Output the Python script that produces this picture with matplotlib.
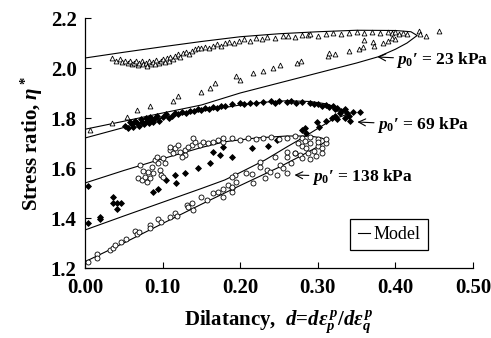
import matplotlib
matplotlib.use('Agg')
import matplotlib.pyplot as plt
import numpy as np

plt.rcParams['font.family'] = ['Liberation Serif', 'DejaVu Serif']
plt.rcParams['font.weight'] = 'bold'
plt.rcParams['axes.labelweight'] = 'bold'
plt.rcParams['mathtext.fontset'] = 'custom'
plt.rcParams['mathtext.rm'] = 'Liberation Serif:bold'
plt.rcParams['mathtext.it'] = 'Liberation Serif:italic:bold'
plt.rcParams['mathtext.bf'] = 'Liberation Serif:bold'

# p0' = 23 kPa test data (open triangles)
tri_d = [0.035, 0.04, 0.045, 0.048, 0.052, 0.055, 0.058, 0.06, 0.063, 0.066, 0.068, 0.07,
         0.073, 0.075, 0.078, 0.08, 0.082, 0.085, 0.087, 0.09, 0.092, 0.095, 0.098, 0.1,
         0.103, 0.106, 0.108, 0.11, 0.113, 0.116, 0.12, 0.123, 0.126, 0.13, 0.134, 0.138,
         0.142, 0.145, 0.15, 0.155, 0.16, 0.165, 0.17, 0.175, 0.18, 0.186, 0.192, 0.198,
         0.205, 0.212, 0.22, 0.228, 0.235, 0.245, 0.255, 0.262, 0.27, 0.28, 0.287, 0.29,
         0.3, 0.31, 0.32, 0.33, 0.34, 0.35, 0.36, 0.37, 0.38, 0.39, 0.395, 0.4, 0.405,
         0.41, 0.415,
         0.006, 0.035, 0.054, 0.067, 0.084, 0.113, 0.12, 0.15, 0.161, 0.167, 0.195, 0.2,
         0.216, 0.23, 0.242, 0.251, 0.273, 0.278, 0.313, 0.315, 0.322, 0.34, 0.353, 0.36,
         0.371, 0.384, 0.358, 0.373, 0.39, 0.395, 0.4, 0.431, 0.44, 0.456, 0.432]
tri_eta = [2.04, 2.03, 2.035, 2.025, 2.03, 2.02, 2.027, 2.015, 2.022, 2.03, 2.012, 2.02,
           2.028, 2.015, 2.022, 2.01, 2.03, 2.018, 2.025, 2.015, 2.032, 2.02, 2.028, 2.035,
           2.025, 2.04, 2.03, 2.045, 2.038, 2.05, 2.055, 2.045, 2.06, 2.065, 2.058, 2.07,
           2.075, 2.08, 2.08, 2.085, 2.08, 2.09, 2.095, 2.09, 2.1, 2.105, 2.1, 2.11,
           2.115, 2.11, 2.12, 2.118, 2.125, 2.12, 2.128, 2.13, 2.125, 2.132, 2.132, 2.135,
           2.13, 2.138, 2.14, 2.135, 2.14, 2.145, 2.14, 2.145, 2.14, 2.145, 2.14, 2.145, 2.138,
           2.142, 2.135,
           1.752, 1.78, 1.804, 1.832, 1.848, 1.868, 1.888, 1.904, 1.92, 1.94, 1.968, 1.952,
           1.98, 1.988, 2.0, 2.012, 2.02, 2.028, 2.048, 2.06, 2.056, 2.068, 2.076, 2.112,
           2.104, 2.1, 2.085, 2.09, 2.11, 2.12, 2.115, 2.148, 2.13, 2.148, 2.135]

# p0' = 69 kPa test data (filled diamonds)
dia_d = [0.052, 0.055, 0.058, 0.06, 0.062, 0.065, 0.067, 0.07, 0.072, 0.074, 0.076, 0.078,
         0.08, 0.082, 0.084, 0.086, 0.088, 0.09, 0.093, 0.096, 0.1, 0.104, 0.108, 0.112,
         0.116, 0.12, 0.125, 0.13, 0.135, 0.14, 0.145, 0.15, 0.155, 0.16, 0.165, 0.17,
         0.175, 0.18, 0.19, 0.2, 0.205, 0.212, 0.22, 0.23, 0.24, 0.245, 0.25, 0.26, 0.265,
         0.272, 0.28, 0.29, 0.295, 0.3, 0.305, 0.31, 0.315, 0.32, 0.322, 0.325, 0.33,
         0.328, 0.335, 0.338, 0.34, 0.335, 0.342, 0.345, 0.354,
         0.004, 0.004, 0.019, 0.019, 0.036, 0.036, 0.041, 0.041, 0.047, 0.088, 0.094,
         0.105, 0.116, 0.117, 0.129, 0.146, 0.161, 0.165, 0.174, 0.19, 0.178, 0.215,
         0.236, 0.248, 0.279, 0.283, 0.285, 0.299, 0.302, 0.31, 0.318, 0.322, 0.325]
dia_eta = [1.77, 1.76, 1.785, 1.775, 1.765, 1.79, 1.78, 1.77, 1.795, 1.785, 1.775, 1.8,
           1.79, 1.78, 1.805, 1.795, 1.785, 1.8, 1.81, 1.79, 1.805, 1.815, 1.8, 1.81,
           1.82, 1.815, 1.825, 1.82, 1.83, 1.828, 1.835, 1.832, 1.84, 1.838, 1.845, 1.842,
           1.85, 1.848, 1.855, 1.86, 1.855, 1.862, 1.86, 1.865, 1.868, 1.862, 1.87, 1.865,
           1.868, 1.862, 1.865, 1.86, 1.855, 1.858, 1.85, 1.852, 1.845, 1.848, 1.835, 1.84,
           1.83, 1.82, 1.835, 1.82, 1.81, 1.8, 1.79, 1.825, 1.824,
           1.528, 1.38, 1.404, 1.396, 1.484, 1.46, 1.46, 1.436, 1.46, 1.504, 1.516,
           1.552, 1.572, 1.54, 1.58, 1.6, 1.62, 1.664, 1.652, 1.644, 1.684, 1.68,
           1.688, 1.712, 1.752, 1.76, 1.74, 1.784, 1.764, 1.79, 1.8, 1.81, 1.795]

# p0' = 138 kPa test data (open circles)
cir_d = [0.004, 0.015, 0.015, 0.032, 0.036, 0.039, 0.047, 0.053, 0.064, 0.067, 0.069,
         0.084, 0.084, 0.094, 0.098, 0.109, 0.116, 0.118, 0.131, 0.133, 0.138, 0.139,
         0.15, 0.157, 0.165, 0.171, 0.178, 0.184, 0.19, 0.193, 0.19, 0.195, 0.208, 0.178,
         0.19, 0.19, 0.215, 0.216, 0.225, 0.225, 0.232, 0.234, 0.238, 0.247, 0.245, 0.251,
         0.255, 0.26, 0.26, 0.266, 0.26, 0.27, 0.277,
         0.071, 0.068, 0.073, 0.077, 0.08, 0.084, 0.086, 0.088, 0.09, 0.093, 0.094, 0.097,
         0.098, 0.1, 0.103, 0.081, 0.075, 0.109, 0.116, 0.113, 0.12, 0.122, 0.129, 0.129,
         0.125, 0.138, 0.142, 0.148, 0.152, 0.158, 0.165, 0.171, 0.178, 0.178, 0.1,
         0.109, 0.133, 0.139,
         0.19, 0.2, 0.21, 0.22, 0.23, 0.24, 0.25, 0.26, 0.27, 0.28, 0.29, 0.3,
         0.275, 0.28, 0.285, 0.29, 0.295, 0.3, 0.305, 0.31, 0.288, 0.298, 0.305, 0.28,
         0.27, 0.29, 0.31, 0.283, 0.3]
cir_eta = [1.224, 1.256, 1.24, 1.272, 1.28, 1.292, 1.304, 1.316, 1.348, 1.336, 1.344,
           1.372, 1.36, 1.396, 1.384, 1.404, 1.42, 1.41, 1.452, 1.444, 1.46, 1.432,
           1.484, 1.472, 1.5, 1.504, 1.484, 1.532, 1.52, 1.572, 1.504, 1.544, 1.58, 1.516,
           1.564, 1.524, 1.576, 1.54, 1.624, 1.604, 1.56, 1.592, 1.584, 1.572, 1.644, 1.612,
           1.6, 1.58, 1.644, 1.62, 1.664, 1.66, 1.652,
           1.612, 1.56, 1.552, 1.564, 1.544, 1.56, 1.604, 1.58, 1.632, 1.644, 1.62, 1.592,
           1.572, 1.64, 1.62, 1.584, 1.588, 1.672, 1.68, 1.66, 1.692, 1.664, 1.672, 1.652,
           1.644, 1.692, 1.704, 1.692, 1.704, 1.7, 1.704, 1.712, 1.704, 1.72, 1.564,
           1.684, 1.684, 1.72,
           1.72, 1.712, 1.722, 1.715, 1.72, 1.725, 1.716, 1.722, 1.728, 1.72, 1.726, 1.718,
           1.7, 1.69, 1.68, 1.7, 1.67, 1.69, 1.68, 1.7, 1.66, 1.65, 1.66, 1.64,
           1.66, 1.635, 1.715, 1.71, 1.705]

# model loops
m23_d = [0, 0.05, 0.1, 0.15, 0.2, 0.25, 0.3, 0.35, 0.4, 0.42, 0.428,
         0.415, 0.4, 0.378, 0.35, 0.3, 0.25, 0.2, 0.15, 0.1, 0.05, 0]
m23_eta = [2.04, 2.063, 2.085, 2.106, 2.125, 2.137, 2.145, 2.151, 2.15, 2.145, 2.13,
           2.1, 2.075, 2.045, 2.02, 1.98, 1.94, 1.9, 1.852, 1.82, 1.787, 1.755]

m69_d = [0, 0.05, 0.1, 0.15, 0.18, 0.2, 0.23, 0.26, 0.29, 0.31, 0.325, 0.338,
         0.33, 0.318, 0.3, 0.28, 0.26, 0.232, 0.2, 0.18, 0.15, 0.1, 0.05, 0]
m69_eta = [1.72, 1.762, 1.8, 1.828, 1.842, 1.852, 1.863, 1.869, 1.866, 1.857, 1.842, 1.815,
           1.806, 1.792, 1.758, 1.72, 1.684, 1.632, 1.582, 1.552, 1.518, 1.463, 1.408, 1.352]

m138_d = [0, 0.05, 0.1, 0.15, 0.18, 0.22, 0.26, 0.29, 0.305, 0.312,
          0.3, 0.285, 0.273, 0.25, 0.2, 0.18, 0.15, 0.1, 0.05, 0]
m138_eta = [1.54, 1.59, 1.637, 1.682, 1.705, 1.72, 1.728, 1.728, 1.72, 1.71,
            1.685, 1.66, 1.64, 1.603, 1.53, 1.5, 1.455, 1.378, 1.3, 1.225]

fig = plt.figure(figsize=(4.91, 3.38), dpi=100)
ax = fig.add_axes([85/491, 70/338, 388/491, 250/338])

for md, me, lab in [(m23_d, m23_eta, 'Model'), (m69_d, m69_eta, None), (m138_d, m138_eta, None)]:
    ax.plot(md, me, color='black', lw=0.8, label=lab, zorder=2)

ax.plot(tri_d, tri_eta, ls='none', marker='^', ms=3.5, mfc='white', mec='black', mew=0.6, zorder=3)
ax.plot(dia_d, dia_eta, ls='none', marker='D', ms=3.0, mfc='black', mec='black', mew=0.6, zorder=3)
ax.plot(cir_d, cir_eta, ls='none', marker='o', ms=3.6, mfc='white', mec='black', mew=0.6, zorder=3)

arrow = dict(arrowstyle='->', color='black', lw=0.8, shrinkA=0, shrinkB=0)
ax.annotate("$p_0$\u2032 = 23 kPa", xy=(0.377, 2.044), xytext=(0.401, 2.032),
            fontsize=12.5, ha='left', va='center', arrowprops=arrow)
ax.annotate("$p_0$\u2032 = 69 kPa", xy=(0.351, 1.784), xytext=(0.376, 1.772),
            fontsize=12.5, ha='left', va='center', arrowprops=arrow)
ax.annotate("$p_0$\u2032 = 138 kPa", xy=(0.270, 1.572), xytext=(0.292, 1.564),
            fontsize=12.5, ha='left', va='center', arrowprops=arrow)

ax.set_xlim(0, 0.5)
ax.set_ylim(1.2, 2.2)
ax.set_xticks(np.arange(0, 0.51, 0.1))
ax.set_yticks(np.arange(1.2, 2.21, 0.2))
ax.xaxis.set_major_formatter(matplotlib.ticker.FormatStrFormatter('%.2f'))
ax.yaxis.set_major_formatter(matplotlib.ticker.FormatStrFormatter('%.1f'))
ax.tick_params(direction='in', length=4, width=0.8, labelsize=15)
ax.tick_params(axis='x', pad=7)
ax.tick_params(axis='y', pad=6)
for s in ['top', 'right']:
    ax.spines[s].set_visible(False)
for s in ['left', 'bottom']:
    ax.spines[s].set_linewidth(0.9)

ax.set_xlabel(r"Dilatancy,  $d$=$d\varepsilon_p^{\,p}/d\varepsilon_q^{\,p}$",
              fontsize=15, fontweight='bold', labelpad=8)
ax.set_ylabel(r"Stress ratio, $\eta^*$", fontsize=15, fontweight='bold', labelpad=4)

leg = ax.legend(loc='center', bbox_to_anchor=(0.784, 0.134), fancybox=False,
                edgecolor='black', framealpha=1, handlelength=0.7, handletextpad=0.2,
                borderpad=0.4, borderaxespad=0, prop={'weight': 'normal', 'size': 13})
leg.get_frame().set_linewidth(0.9)

fig.savefig('out.png', dpi=100)
